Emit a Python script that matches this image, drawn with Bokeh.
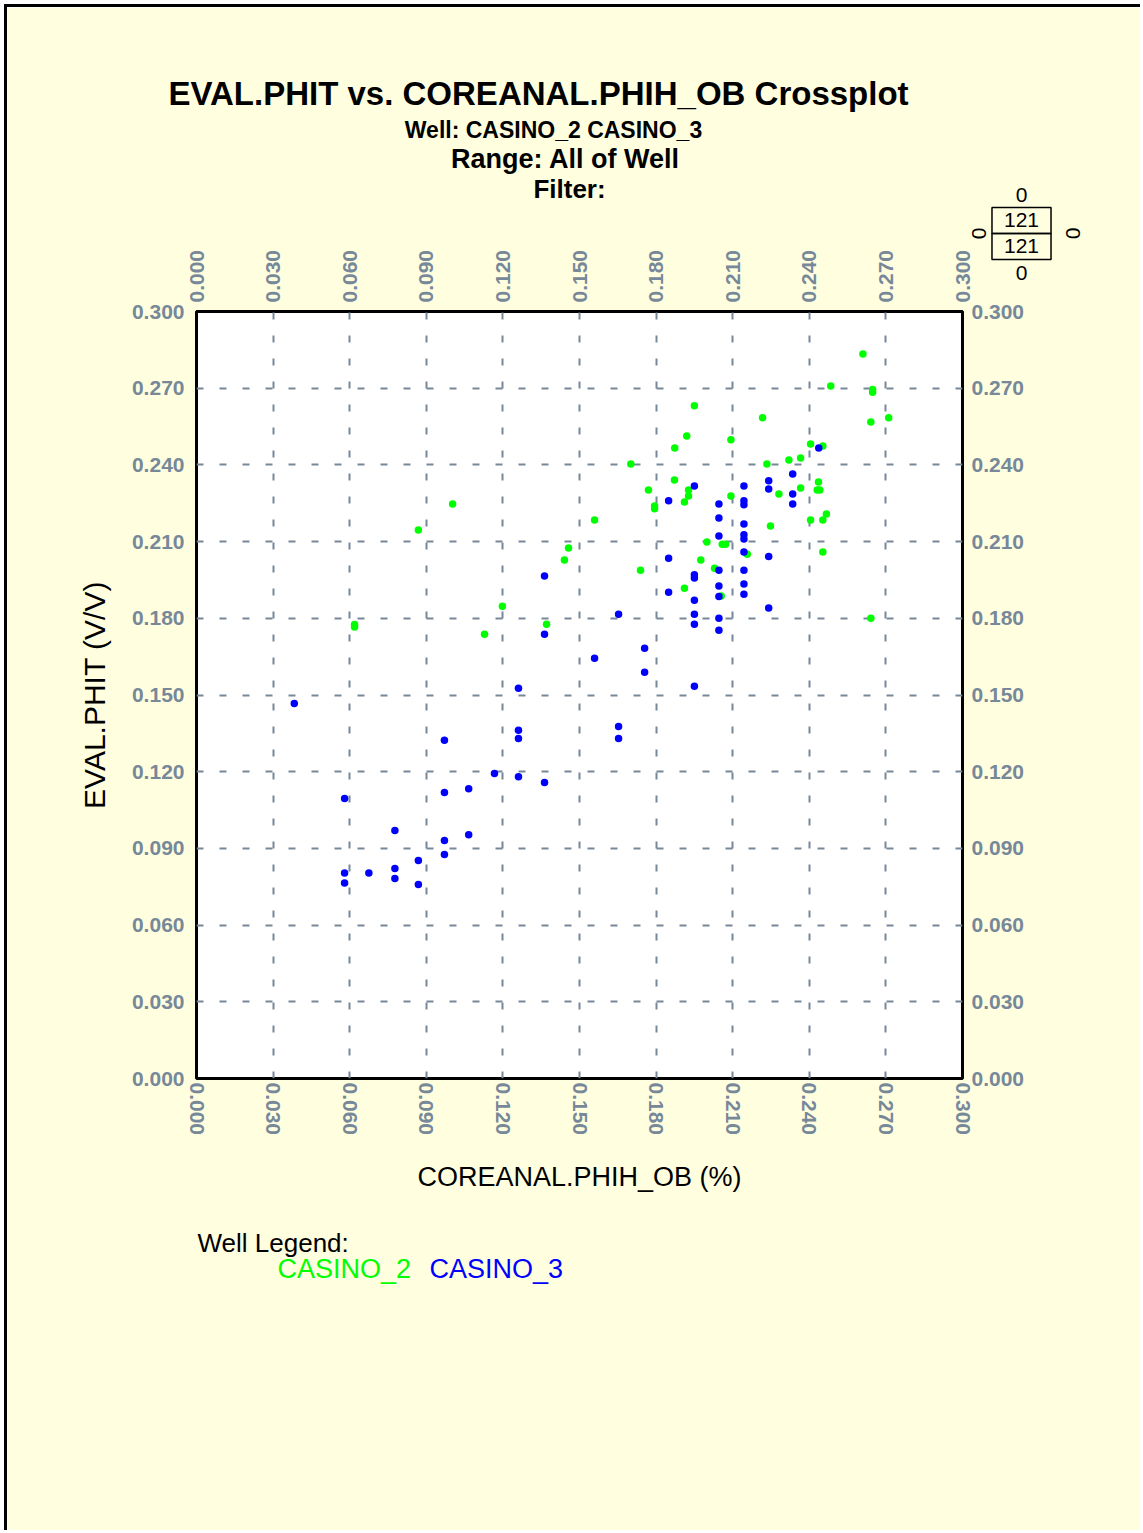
import math
from bokeh.plotting import figure
from bokeh.models import (Label, FixedTicker, LinearAxis,
                          PrintfTickFormatter, Range1d, ColumnDataSource)
from bokeh.embed import file_html
from bokeh.resources import INLINE

# ---------------- data ----------------
TICK_LABELS = ["0.000", "0.030", "0.060", "0.090", "0.120", "0.150",
               "0.180", "0.210", "0.240", "0.270", "0.300"]

casino2_x = [0.1003, 0.0869, 0.1457, 0.1441, 0.1198, 0.1371, 0.1128, 0.0619, 0.0619,
             0.2610, 0.2484, 0.2648, 0.2648, 0.1950, 0.2217, 0.2711, 0.2641, 0.1920,
             0.1873, 0.2093, 0.2405, 0.2453, 0.1701, 0.2234, 0.2366, 0.2320, 0.1872,
             0.1770, 0.1927, 0.1927, 0.1911, 0.1794, 0.1794, 0.2093, 0.2281, 0.2366,
             0.2436, 0.2431, 0.2441, 0.2467, 0.2405, 0.2453, 0.2248, 0.1559, 0.1999,
             0.2059, 0.2072, 0.2453, 0.1975, 0.2157, 0.1739, 0.2029, 0.1911, 0.2055,
             0.2641]
casino2_y = [0.2247, 0.2145, 0.2075, 0.2028, 0.1847, 0.1777, 0.1738, 0.1776, 0.1766,
             0.2834, 0.2709, 0.2695, 0.2684, 0.2631, 0.2584, 0.2584, 0.2568, 0.2513,
             0.2466, 0.2498, 0.2482, 0.2474, 0.2404, 0.2404, 0.2427, 0.2419, 0.2341,
             0.2302, 0.2302, 0.2278, 0.2255, 0.2239, 0.2228, 0.2278, 0.2286, 0.2310,
             0.2333, 0.2302, 0.2302, 0.2208, 0.2184, 0.2184, 0.2161, 0.2184, 0.2098,
             0.2090, 0.2090, 0.2059, 0.2028, 0.2051, 0.1988, 0.1996, 0.1918, 0.1887,
             0.1800]

casino3_x = [0.0383, 0.0580, 0.0580, 0.0580, 0.0675, 0.0777, 0.0777, 0.0777, 0.0869,
             0.0869, 0.0971, 0.0971, 0.0971, 0.0971, 0.1066, 0.1066, 0.1167, 0.1261,
             0.1261, 0.1261, 0.1261, 0.1363, 0.1363, 0.1363, 0.1559, 0.1653, 0.1653,
             0.1653, 0.1755, 0.1755, 0.1849, 0.1849, 0.1849, 0.1950, 0.1950, 0.1950,
             0.1950, 0.1950, 0.1950, 0.1950, 0.2046, 0.2046, 0.2046, 0.2046, 0.2046,
             0.2046, 0.2046, 0.2046, 0.2144, 0.2144, 0.2144, 0.2144, 0.2144, 0.2144,
             0.2144, 0.2144, 0.2144, 0.2144, 0.2241, 0.2241, 0.2241, 0.2241, 0.2335,
             0.2335, 0.2335, 0.2437]
casino3_y = [0.1467, 0.1095, 0.0804, 0.0765, 0.0804, 0.0970, 0.0821, 0.0782, 0.0853,
             0.0759, 0.1323, 0.1119, 0.0931, 0.0876, 0.1133, 0.0953, 0.1193, 0.1526,
             0.1362, 0.1330, 0.1180, 0.1965, 0.1738, 0.1158, 0.1644, 0.1816, 0.1377,
             0.1330, 0.1683, 0.1589, 0.2260, 0.2035, 0.1902, 0.2317, 0.1970, 0.1958,
             0.1871, 0.1816, 0.1777, 0.1534, 0.2247, 0.2192, 0.2122, 0.1988, 0.1926,
             0.1885, 0.1800, 0.1753, 0.2317, 0.2260, 0.2244, 0.2169, 0.2127, 0.2110,
             0.2059, 0.1988, 0.1934, 0.1894, 0.2338, 0.2306, 0.2042, 0.1840, 0.2364,
             0.2286, 0.2247, 0.2466]

WELLS = ["CASINO_2", "CASINO_3"]
QUAD_COUNTS = {"top": "0", "upper": "121", "lower": "121", "bottom": "0", "left": "0", "right": "0"}

TITLE = "EVAL.PHIT vs. COREANAL.PHIH_OB Crossplot"
SUB1 = "Well: CASINO_2 CASINO_3"
SUB2 = "Range: All of Well"
SUB3 = "Filter:"
XLABEL = "COREANAL.PHIH_OB (%)"
YLABEL = "EVAL.PHIT (V/V)"

# ---------------- layout ----------------
OFFX, OFFY = 7, 7            # page offset of the canvas (page frame border)
W, H = 1143 - OFFX, 1533 - OFFY
FL, FR, FT, FB = 196, 962, 311, 1078   # frame edges in page pixels
BG = "#FFFFE0"
TICK_COLOR = "#778899"
FONT = "Liberation Sans"

p = figure(width=W, height=H, x_range=Range1d(0, 0.3), y_range=Range1d(0, 0.3),
           output_backend="svg", toolbar_location=None,
           min_border_left=FL - OFFX, min_border_right=(W + OFFX) - FR,
           min_border_top=FT - OFFY, min_border_bottom=(H + OFFY) - FB,
           x_axis_location="below", y_axis_location="left")
p.styles = {"border-top": "3px solid black", "border-left": "3px solid black",
            "margin-left": "4px", "margin-top": "4px"}
p.background_fill_color = "white"
p.border_fill_color = BG
p.outline_line_color = "black"
p.outline_line_width = 3

ticks = [float(s) for s in TICK_LABELS]
p.add_layout(LinearAxis(), "above")
p.add_layout(LinearAxis(), "right")

for ax in p.axis:
    ax.ticker = FixedTicker(ticks=ticks)
    ax.formatter = PrintfTickFormatter(format="%.3f")
    ax.major_label_text_color = TICK_COLOR
    ax.major_label_text_font = FONT
    ax.major_label_text_font_style = "bold"
    ax.major_label_text_font_size = "21px"
    ax.axis_line_color = None
    ax.major_tick_line_color = None
    ax.minor_tick_line_color = None
    ax.major_tick_out = 0
    ax.major_tick_in = 0
    ax.minor_tick_out = 0
    ax.axis_label_text_font = FONT
    ax.axis_label_text_font_style = "normal"
    ax.axis_label_text_color = "black"

xb = p.below[0]
xb.major_label_orientation = "vertical"
xb.major_label_standoff = 4
xb.axis_label = XLABEL
xb.axis_label_text_font_size = "27px"
xb.axis_label_standoff = 24

xa = p.above[-1]
xa.major_label_orientation = "vertical"
xa.major_label_standoff = 9

yl = p.left[0]
yl.major_label_standoff = 12
yl.axis_label = YLABEL
yl.axis_label_text_font_size = "30px"
yl.axis_label_standoff = 18

yr = p.right[0]
yr.major_label_standoff = 9

for g in (p.xgrid[0], p.ygrid[0]):
    g.ticker = FixedTicker(ticks=ticks)
    g.grid_line_color = TICK_COLOR
    g.grid_line_dash = "7 16"
    g.grid_line_width = 2

src2 = ColumnDataSource(dict(x=casino2_x, y=casino2_y))
src3 = ColumnDataSource(dict(x=casino3_x, y=casino3_y))
p.scatter("x", "y", source=src2, size=7.5, marker="circle", color="#00FF00", line_width=0)
p.scatter("x", "y", source=src3, size=7.5, marker="circle", color="#0000FF", line_width=0)

# ---------------- texts (placed in side panels so they are not clipped) ----------------
SC = (FR - FL) / 0.3


def dx(px):
    return (px - FL) / SC


def dy(py):
    return (FB - py) / SC


def lab(place, px, py, text, size, color="black", bold=False, align="center",
        angle=0.0, **kw):
    p.add_layout(Label(x=dx(px), y=dy(py), text=text, text_font=FONT,
                       text_font_size=f"{size}px", text_color=color,
                       text_font_style="bold" if bold else "normal",
                       text_align=align, text_baseline="middle", angle=angle, **kw),
                 place)


lab("above", 538, 94, TITLE, 33, bold=True)
lab("above", 553, 131, SUB1, 23, bold=True)
lab("above", 565, 160, SUB2, 27, bold=True)
lab("above", 569, 190, SUB3, 26, bold=True)

lab("below", 197, 1242, "Well Legend:", 26, align="left")
lab("below", 277, 1268, WELLS[0], 27, color="#00FF00", align="left")
lab("below", 429, 1268, WELLS[1], 27, color="#0000FF", align="left")

# quadrant count box
lab("below", 1021, 196, QUAD_COUNTS["top"], 21)
lab("below", 1021, 221, QUAD_COUNTS["upper"], 21, padding=(12, 6),
    border_line_color="black", border_line_width=1.5)
lab("below", 1021, 247, QUAD_COUNTS["lower"], 21, padding=(12, 6),
    border_line_color="black", border_line_width=1.5)
lab("below", 1021, 274, QUAD_COUNTS["bottom"], 21)
lab("below", 978, 234, QUAD_COUNTS["left"], 21, angle=math.pi / 2)
lab("below", 1072, 234, QUAD_COUNTS["right"], 21, angle=-math.pi / 2)

open("out.html", "w").write(file_html(p, INLINE))
